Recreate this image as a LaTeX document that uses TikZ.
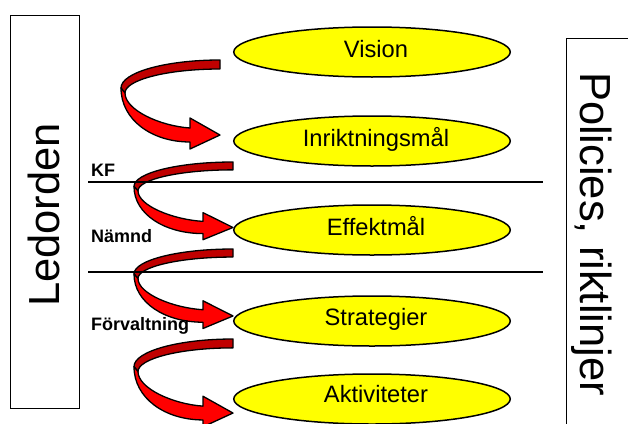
\documentclass[tikz,border=0pt]{standalone}
\usepackage{fontspec}
\setmainfont{Liberation Sans}
\usetikzlibrary{shapes.geometric}
\definecolor{brightred}{HTML}{FF0000}
\definecolor{darkred}{HTML}{C00000}
\definecolor{ellyellow}{HTML}{FFFF00}
\tikzset{
  ribbondark/.style={fill=darkred, draw=black, line width=1.3pt, line join=round},
  ribbonfront/.style={fill=brightred, draw=black, line width=1.3pt, line join=round},
  goal/.style={ellipse, draw=black, line width=1.5pt, fill=ellyellow, minimum width=276.5pt, minimum height=50pt, inner sep=0pt},
  goaltext/.style={font=\fontsize{23.7}{28}\selectfont, anchor=base, inner sep=0pt},
  lbl/.style={font=\bfseries\fontsize{18}{21}\selectfont, anchor=base west, inner sep=0pt},
  sidebox/.style={draw=black, line width=1.2pt, anchor=north west, inner sep=0pt},
  sidetext/.style={font=\fontsize{43.5}{50}\selectfont, inner sep=0pt},
  sepline/.style={draw=black, line width=1.2pt}
}
% #1 name of tip, #2 tail x, #3 tail top y, #4 vertical scale
\newcommand{\ribbonarrow}[4]{%
  \begin{scope}[shift={(#2,#3)}, yscale=#4]
    \filldraw[ribbondark] (0,0) coordinate (#1tail)
      .. controls (-54.7,0) and (-99,12.5) .. (-99,28)
      -- (-95,33) .. controls (-95,19.8) and (-52.4,9) .. (0,9) -- cycle;
    \filldraw[ribbonfront] (-99,28)
      .. controls (-99,60) and (-68,82) .. (-30,82)
      -- (-30,89) -- (0,75) coordinate (#1) -- (-30,58) -- (-30,68)
      .. controls (-60,66) and (-95,50) .. (-95,33) -- cycle;
  \end{scope}}
\begin{document}
\begin{tikzpicture}[x=1pt, y=-1pt]
\useasboundingbox (0,0) rectangle (628,423);
% side boxes
\node[sidebox, minimum width=69pt, minimum height=393pt] (lbox) at (10,15) {};
\node[sidetext, rotate=90] (led) at (44,215) {Ledorden};
\node[sidebox, minimum width=90pt, minimum height=420pt] (pbox) at (566,38) {};
\node[sidetext, rotate=-90] (pol) at (592,234) {Policies, riktlinjer};
% separator lines
\coordinate (l1a) at (88,182); \coordinate (l1b) at (543,182);
\coordinate (l2a) at (88,272); \coordinate (l2b) at (543,272);
% arrows
\ribbonarrow{a1}{220}{60}{1}
\ribbonarrow{a2}{233}{162}{0.873}
\ribbonarrow{a3}{233}{249}{0.893}
\ribbonarrow{a4}{233}{339}{0.987}
\draw[sepline] (l1a) -- (l1b);
\draw[sepline] (l2a) -- (l2b);
% goals
\node[goal] (vision) at (372,52) {};
\node[goal] (inrikt) at (372,141) {};
\node[goal] (effekt) at (372,230) {};
\node[goal] (strat) at (372,321) {};
\node[goal] (aktiv) at (372,399) {};
\node[goaltext] (visiont) at (376,57.5) {Vision};
\node[goaltext] (inriktt) at (376,146.5) {Inriktningsmål};
\node[goaltext] (effektt) at (376,235.5) {Effektmål};
\node[goaltext] (stratt) at (376,325.5) {Strategier};
\node[goaltext] (aktivt) at (376,402.5) {Aktiviteter};
% labels
\node[lbl] (kf) at (91,176) {KF};
\node[lbl] (namnd) at (91,242) {Nämnd};
\node[lbl] (forv) at (91,330) {Förvaltning};
\end{tikzpicture}
\end{document}
